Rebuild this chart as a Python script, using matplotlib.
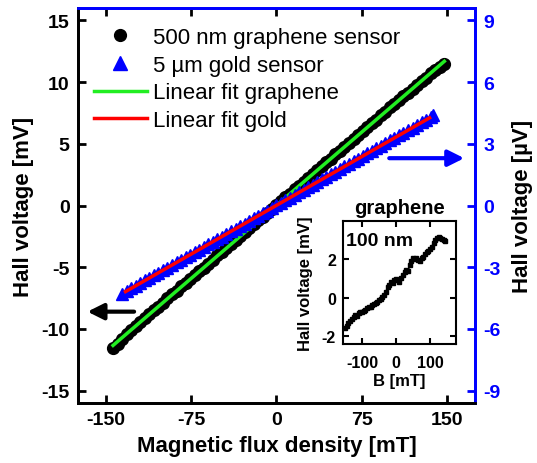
import numpy as np
import matplotlib
matplotlib.use('Agg')
import matplotlib.pyplot as plt
from matplotlib.lines import Line2D

plt.rcParams['font.family'] = ['Liberation Sans', 'DejaVu Sans']
plt.rcParams['axes.unicode_minus'] = False

# 500 nm graphene sensor, B [mT] vs Hall voltage [mV]
b_graphene = [-144, -140, -136, -132, -128, -124, -120, -116, -112, -108, -104, -100,
              -96, -92, -88, -84, -80, -76, -72, -68, -64, -60, -56, -52, -48, -44,
              -40, -36, -32, -28, -24, -20, -16, -12, -8, -4, 0, 4, 8, 12, 16, 20,
              24, 28, 32, 36, 40, 44, 48, 52, 56, 60, 64, 68, 72, 76, 80, 84, 88,
              92, 96, 100, 104, 108, 112, 116, 120, 124, 128, 132, 136, 140, 144, 148]
v_graphene = [-11.55, -11.20, -10.80, -10.45, -10.05, -9.80, -9.45, -9.10, -8.80, -8.45,
              -8.20, -7.90, -7.50, -7.20, -6.90, -6.55, -6.30, -5.95, -5.65, -5.30,
              -5.05, -4.70, -4.40, -4.05, -3.75, -3.45, -3.10, -2.80, -2.50, -2.15,
              -1.85, -1.50, -1.20, -0.90, -0.60, -0.25, 0.05, 0.35, 0.65, 0.95,
              1.30, 1.60, 1.90, 2.25, 2.55, 2.85, 3.20, 3.50, 3.80, 4.15,
              4.45, 4.75, 5.10, 5.40, 5.70, 6.05, 6.35, 6.65, 6.95, 7.30,
              7.60, 7.95, 8.25, 8.55, 8.85, 9.15, 9.45, 9.75, 10.05, 10.35,
              10.70, 11.00, 11.25, 11.50]

# 5 um gold sensor, B [mT] vs Hall voltage [uV]
b_gold = [-136, -132, -128, -124, -120, -116, -112, -108, -104, -100, -96, -92, -88,
          -84, -80, -76, -72, -68, -64, -60, -56, -52, -48, -44, -40, -36, -32, -28,
          -24, -20, -16, -12, -8, -4, 0, 4, 8, 12, 16, 20, 24, 28, 32, 36, 40, 44,
          48, 52, 56, 60, 64, 68, 72, 76, 80, 84, 88, 92, 96, 100, 104, 108, 112,
          116, 120, 124, 128, 132, 136, 138]
v_gold = [-4.30, -4.15, -4.02, -3.90, -3.78, -3.64, -3.52, -3.40, -3.27, -3.14, -3.02,
          -2.89, -2.77, -2.64, -2.51, -2.39, -2.26, -2.14, -2.01, -1.88, -1.76, -1.63,
          -1.51, -1.38, -1.25, -1.13, -1.00, -0.88, -0.75, -0.62, -0.50, -0.37, -0.25,
          -0.12, 0.01, 0.13, 0.26, 0.38, 0.51, 0.64, 0.76, 0.89, 1.01, 1.14, 1.27,
          1.39, 1.52, 1.64, 1.77, 1.90, 2.02, 2.15, 2.27, 2.40, 2.53, 2.65, 2.78,
          2.90, 3.03, 3.16, 3.28, 3.41, 3.53, 3.66, 3.79, 3.91, 4.04, 4.16, 4.30, 4.38]

# inset: 100 nm graphene, B [mT] vs Hall voltage [mV]
b_inset = [-150, -145, -140, -135, -130, -125, -120, -115, -110, -105, -100, -95, -90,
           -85, -80, -75, -70, -65, -60, -55, -50, -45, -40, -35, -30, -25, -20, -15,
           -10, -5, 0, 5, 10, 15, 20, 25, 30, 35, 40, 45, 50, 55, 60, 65, 70, 75, 80,
           85, 90, 95, 100, 105, 110, 115, 120, 125, 130, 135, 140, 145]
v_inset = [-1.55, -1.45, -1.30, -1.20, -1.10, -1.00, -0.90, -0.95, -0.80, -0.75, -0.72,
           -0.70, -0.62, -0.55, -0.50, -0.45, -0.35, -0.30, -0.25, -0.20, -0.12, -0.05,
           0.05, 0.15, 0.30, 0.55, 0.65, 0.85, 0.80, 0.95, 1.00, 0.95, 0.85, 1.05,
           1.20, 1.35, 1.45, 1.40, 1.70, 1.90, 2.05, 2.00, 2.10, 1.95, 1.90, 2.05,
           2.15, 2.30, 2.40, 2.45, 2.55, 2.65, 2.85, 3.00, 3.10, 3.15, 3.10, 3.05,
           3.00, 2.95]

fig = plt.figure(figsize=(5.37, 4.64), dpi=100)
ax = fig.add_axes([0.145, 0.1293, 0.7395, 0.8513])
ax2 = ax.twinx()

ax.plot(b_graphene, v_graphene, 'o', color='black', markersize=8.5, zorder=2)
p = np.polyfit(b_graphene, v_graphene, 1)
xf = np.array([min(b_graphene), max(b_graphene)])
ax.plot(xf, np.polyval(p, xf), color='#22ee22', lw=2.5, zorder=3)

ax2.plot(b_gold, v_gold, '^', color='blue', markersize=9, zorder=2)
p2 = np.polyfit(b_gold, v_gold, 1)
xf2 = np.array([min(b_gold) + 3, max(b_gold) - 3])
ax2.plot(xf2, np.polyval(p2, xf2), color='red', lw=2.5, zorder=3)

ax.set_xlim(-175, 175)
ax.set_ylim(-16, 16)
ax2.set_ylim(-9.6, 9.6)
ax.set_xticks([-150, -75, 0, 75, 150])
ax.set_yticks([-15, -10, -5, 0, 5, 10, 15])
ax2.set_yticks([-9, -6, -3, 0, 3, 6, 9])

for a in (ax, ax2):
    for s in a.spines.values():
        s.set_linewidth(2)
    a.spines['top'].set_color('blue')
    a.spines['right'].set_color('blue')

ax.tick_params(direction='in', length=6, width=2, labelsize=14, top=True, pad=6)
for t in ax.xaxis.get_major_ticks():
    t.tick2line.set_color('blue')
ax2.tick_params(direction='in', length=6, width=2, labelsize=14, colors='blue', pad=6)
for lab in ax.get_xticklabels() + ax.get_yticklabels() + ax2.get_yticklabels():
    lab.set_fontweight('bold')

ax.set_xlabel('Magnetic flux density [mT]', fontsize=16, fontweight='bold', labelpad=5)
ax.set_ylabel('Hall voltage [mV]', fontsize=16, fontweight='bold', labelpad=5)
ax2.set_ylabel('Hall voltage [\u00b5V]', fontsize=16, fontweight='bold', labelpad=8)

# arrows pointing to the matching axis
ax.annotate('', xy=(-169, -8.6), xytext=(-123, -8.6),
            arrowprops=dict(arrowstyle='-|>', color='black', lw=3, mutation_scale=24))
ax2.annotate('', xy=(168, 2.3), xytext=(97, 2.3),
             arrowprops=dict(arrowstyle='-|>', color='blue', lw=3, mutation_scale=24))

handles = [
    Line2D([], [], ls='none', marker='o', color='black', markersize=8.5),
    Line2D([], [], ls='none', marker='^', color='blue', markersize=10),
    Line2D([], [], color='#22ee22', lw=2.5),
    Line2D([], [], color='red', lw=2.5),
]
labels = ['500 nm graphene sensor', '5 \u00b5m gold sensor',
          'Linear fit graphene', 'Linear fit gold']
ax2.legend(handles, labels, loc='upper left', bbox_to_anchor=(0.04, 0.952),
           frameon=False, fontsize=16, handlelength=2.4, handletextpad=0.28,
           labelspacing=0.3, borderpad=0, borderaxespad=0)

# inset
axin = fig.add_axes([0.6387, 0.2565, 0.2104, 0.265])
axin.plot(b_inset, v_inset, 's-', color='black', markersize=3, lw=1.2)
axin.set_xlim(-156, 176)
axin.set_ylim(-2.4, 4)
axin.set_xticks([-100, 0, 100])
axin.set_yticks([-2, 0, 2])
axin.tick_params(direction='in', length=4, width=1.5, labelsize=11.5,
                 top=True, right=True, pad=5)
axin.tick_params(axis='x', pad=8)
for s in axin.spines.values():
    s.set_linewidth(1.5)
for lab in axin.get_xticklabels() + axin.get_yticklabels():
    lab.set_fontweight('bold')
axin.set_xlabel('B [mT]', fontsize=12, fontweight='bold', labelpad=2)
axin.set_ylabel('Hall voltage [mV]', fontsize=12, fontweight='bold', labelpad=6)
axin.set_title('graphene', fontsize=14.5, fontweight='bold', pad=6)
axin.text(0.025, 0.91, '100 nm', transform=axin.transAxes, fontsize=14,
          fontweight='bold', va='top', ha='left')

fig.savefig('out.png', dpi=100)
